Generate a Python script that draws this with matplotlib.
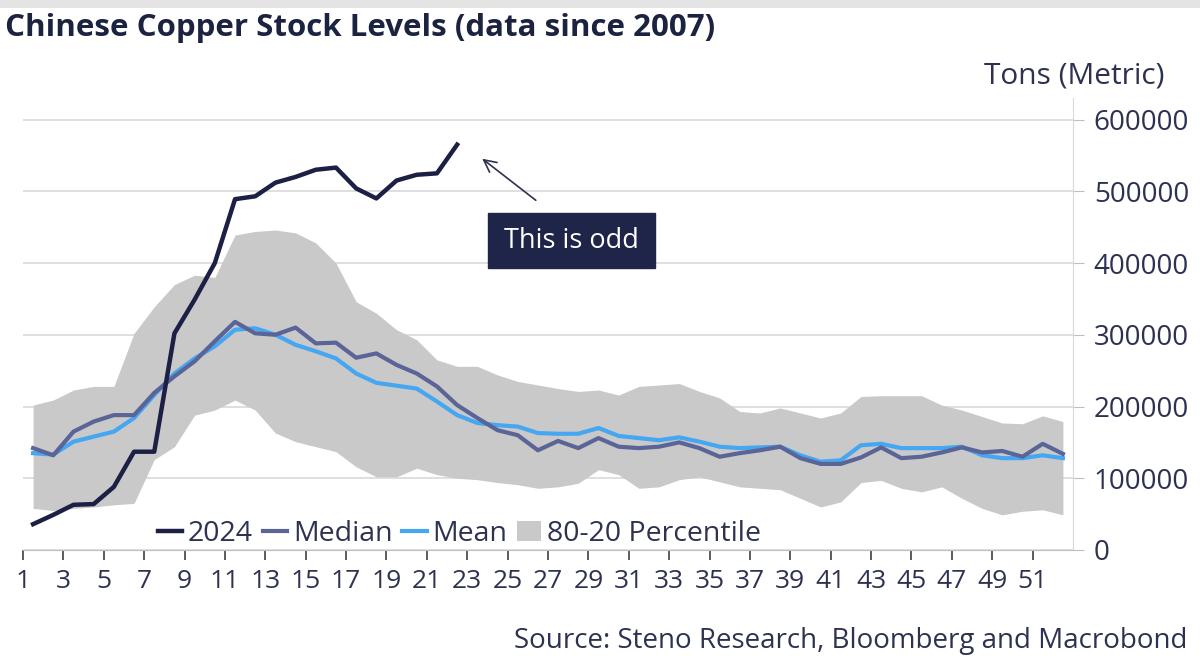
import matplotlib
matplotlib.use("Agg")
import matplotlib.pyplot as plt
from matplotlib.patches import Rectangle
import numpy as np

plt.rcParams['font.family'] = ['Open Sans', 'DejaVu Sans']

weeks = list(range(1, 53))
y2024 = [36000, 49000, 63000, 64000, 88000, 137000, 137000, 302000, 349000, 400000,
         489000, 493000, 512000, 520000, 530000, 533000, 504000, 490000, 515000, 523000,
         525000, 565000]
median = [142000, 132000, 165000, 179000, 188000, 188000, 219000, 242000, 263000, 291000,
          318000, 302000, 300000, 310000, 288000, 289000, 268000, 274000, 258000, 246000,
          228000, 202000, 184000, 167000, 160000, 139000, 152000, 142000, 156000, 144000,
          142000, 144000, 150000, 142000, 130000, 135000, 139000, 144000, 128000, 120000,
          120000, 129000, 143000, 128000, 130000, 136000, 143000, 136000, 138000, 130000,
          148000, 134000]
mean = [135000, 133000, 151000, 158000, 165000, 184000, 216000, 246000, 267000, 284000,
        307000, 309000, 300000, 286000, 277000, 267000, 246000, 233000, 229000, 225000,
        207000, 188000, 177000, 174000, 172000, 163000, 162000, 162000, 170000, 159000,
        156000, 153000, 157000, 151000, 144000, 142000, 143000, 144000, 132000, 123000,
        125000, 146000, 148000, 142000, 142000, 142000, 144000, 132000, 128000, 128000,
        132000, 128000]
p80 = [202000, 209000, 223000, 228000, 228000, 302000, 339000, 370000, 383000, 380000,
       439000, 444000, 446000, 442000, 428000, 400000, 346000, 330000, 307000, 293000,
       265000, 256000, 256000, 244000, 235000, 230000, 225000, 221000, 223000, 216000,
       228000, 230000, 232000, 221000, 212000, 193000, 191000, 198000, 191000, 184000,
       191000, 214000, 215000, 215000, 215000, 202000, 195000, 186000, 177000, 176000,
       187000, 179000]
p20 = [58000, 55000, 58000, 60000, 63000, 65000, 126000, 144000, 188000, 195000,
       209000, 195000, 163000, 151000, 144000, 137000, 116000, 102000, 102000, 114000,
       105000, 100000, 98000, 94000, 91000, 86000, 88000, 93000, 112000, 105000,
       86000, 88000, 98000, 102000, 95000, 88000, 86000, 84000, 72000, 60000,
       67000, 94000, 97000, 86000, 81000, 88000, 72000, 58000, 49000, 54000,
       56000, 49000]
xtick_labels = [str(w) for w in range(1, 52, 2)]
ytick_values = [0, 100000, 200000, 300000, 400000, 500000, 600000]

TXT = '#2d3250'
NAVY = '#1b2044'
MED = '#5a6496'
MEAN = '#45a6f2'
BAND = '#c9c9c9'

W, H = 1200, 665
fig = plt.figure(figsize=(W / 100, H / 100), dpi=100)
ax = fig.add_axes([23 / W, 1 - 550 / H, (1073 - 23) / W, (550 - 98) / H])

x = np.array(weeks)
ax.fill_between(x, p20, p80, color=BAND, lw=0, label='80-20 Percentile', zorder=1)
ax.plot(x, mean, color=MEAN, lw=3.0, label='Mean', zorder=3)
ax.plot(x, median, color=MED, lw=3.0, label='Median', zorder=4)
ax.plot(x[:len(y2024)], y2024, color=NAVY, lw=3.2, label='2024', zorder=5)

ax.set_xlim(0.5, 52.5)
ax.set_ylim(0, 630000)
ax.set_yticks(ytick_values)
ax.set_yticklabels([str(v) for v in ytick_values])
ax.yaxis.tick_right()
ax.grid(axis='y', color='#d9d9d9', lw=1.2, zorder=0)
ax.set_axisbelow(True)
ax.tick_params(axis='y', length=8, color='#bfbfbf', labelsize=20, labelcolor=TXT, pad=7)

xt = [w - 0.5 for w in range(1, 52, 2)]
ax.set_xticks(xt)
ax.set_xticklabels(xtick_labels)
ax.tick_params(axis='x', length=7, width=1.2, color='#404040', labelsize=19, labelcolor=TXT, pad=7)

for s in ['left', 'top']:
    ax.spines[s].set_visible(False)
ax.spines['right'].set_color('#d9d9d9')
ax.spines['bottom'].set_color('#bfbfbf')

handles, labels = ax.get_legend_handles_labels()
order = ['2024', 'Median', 'Mean', '80-20 Percentile']
hmap = dict(zip(labels, handles))
leg = fig.legend([hmap[k] for k in order], order, loc='center left',
                 bbox_to_anchor=(158 / W, 1 - 534 / H), ncol=4, frameon=False,
                 fontsize=20.5, handlelength=0.85, handletextpad=0.2, columnspacing=0.35,
                 labelcolor=TXT, borderaxespad=0, borderpad=0)

# top shadow strip
fig.patches.append(Rectangle((0, 1 - 8 / H), 1, 8 / H, transform=fig.transFigure,
                             color='#e4e4e4', lw=0, zorder=0))

fig.text(5 / W, 1 - 28 / H, 'Chinese Copper Stock Levels (data since 2007)',
         fontsize=22.5, fontweight='bold', color='#1c2340', ha='left', va='center')
fig.text(1164 / W, 1 - 83 / H, 'Tons (Metric)', fontsize=21.5, color=TXT,
         ha='right', va='baseline')
fig.text(1187 / W, 1 - 648 / H, 'Source: Steno Research, Bloomberg and Macrobond',
         fontsize=20, color=TXT, ha='right', va='baseline')

# annotation box
fig.patches.append(Rectangle((488 / W, 1 - 268 / H), (655 - 488) / W, (268 - 213) / H,
                             transform=fig.transFigure, facecolor='#1f2449',
                             edgecolor='#1f2449', zorder=10))
fig.text(571 / W, 1 - 241 / H, 'This is odd', fontsize=19.5, color='white',
         ha='center', va='center', zorder=11)
ax.annotate('', xy=(480, H - 157), xytext=(538, H - 202),
            xycoords='figure pixels', textcoords='figure pixels',
            arrowprops=dict(arrowstyle='->', color=TXT, lw=1.2, mutation_scale=22))

fig.savefig('out.png', dpi=100)
